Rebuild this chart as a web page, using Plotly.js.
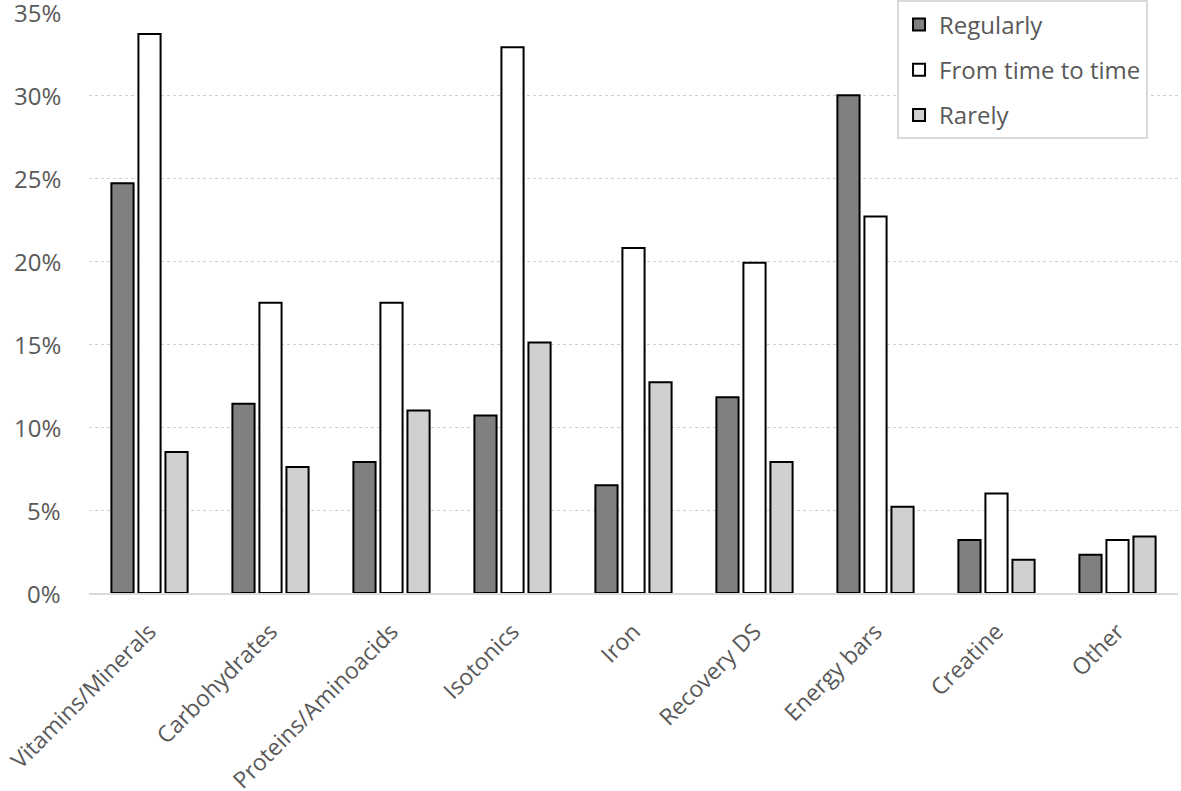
<!DOCTYPE html>
<html>
<head>
<meta charset="utf-8">
<script src="https://cdn.plot.ly/plotly-3.0.1.min.js"></script>
<style>html,body{margin:0;padding:0;background:#fff;}#chart{width:1181px;height:791px;}</style>
</head>
<body>
<div id="chart"></div>
<script>
const categories = ["Vitamins/Minerals", "Carbohydrates", "Proteins/Aminoacids", "Isotonics", "Iron", "Recovery DS", "Energy bars", "Creatine", "Other"];
const seriesNames = ["Regularly", "From time to time", "Rarely"];
const regularly = [24.7, 11.4, 7.9, 10.7, 6.5, 11.8, 30.0, 3.2, 2.3];
const fromTimeToTime = [33.7, 17.5, 17.5, 32.9, 20.8, 19.9, 22.7, 6.0, 3.2];
const rarely = [8.5, 7.6, 11.0, 15.1, 12.7, 7.9, 5.2, 2.0, 3.4];
const yTicks = [0, 5, 10, 15, 20, 25, 30, 35];
const yTickLabels = ["0%", "5%", "10%", "15%", "20%", "25%", "30%", "35%"];

const colors = ["#808080", "#ffffff", "#d0d0d0"];
const values = [regularly, fromTimeToTime, rarely];
const font = "Open Sans, Noto Sans, sans-serif";

const traces = values.map((v, i) => ({
  type: "bar",
  name: seriesNames[i],
  x: categories,
  y: v,
  legendgroup: "g" + i,
  marker: {color: colors[i], line: {color: "#000000", width: 2}},
  hoverinfo: "skip"
}));

const yLabelAnnotations = yTicks.map((t, i) => ({
  xref: "paper", yref: "y", x: 0, y: t,
  xanchor: "right", yanchor: "middle", xshift: -26,
  text: yTickLabels[i], showarrow: false,
  font: {family: font, size: 24, color: "#595959"}
}));

const layout = {
  width: 1181, height: 791,
  margin: {l: 89, r: 3, t: 12, b: 198, autoexpand: false},
  paper_bgcolor: "#ffffff", plot_bgcolor: "#ffffff",
  barmode: "group", bargap: 0.33, bargroupgap: 0.18,
  font: {family: font, color: "#595959", size: 24},
  xaxis: {
    type: "category", tickangle: -45, showgrid: false, zeroline: false,
    showline: true, linecolor: "#d9d9d9", linewidth: 2, ticks: "outside", ticklen: 14, tickcolor: "rgba(0,0,0,0)",
    ticklabeloverflow: "allow", automargin: false,
    tickfont: {family: font, size: 23, color: "#595959"}
  },
  yaxis: {
    range: [0, 35.02], tickvals: yTicks, showticklabels: false,
    showgrid: true, gridcolor: "#d0d0d0", griddash: "dot", gridwidth: 1,
    zeroline: false, showline: false, ticks: "", automargin: false
  },
  annotations: yLabelAnnotations,
  showlegend: true,
  legend: {
    x: 0.742, y: 1.02, xanchor: "left", yanchor: "top",
    bgcolor: "#ffffff", bordercolor: "#d9d9d9", borderwidth: 2,
    traceorder: "grouped", tracegroupgap: 11,
    font: {family: font, size: 24, color: "#595959"}
  }
};

Plotly.newPlot("chart", traces, layout, {displayModeBar: false, staticPlot: true});
</script>
</body>
</html>
